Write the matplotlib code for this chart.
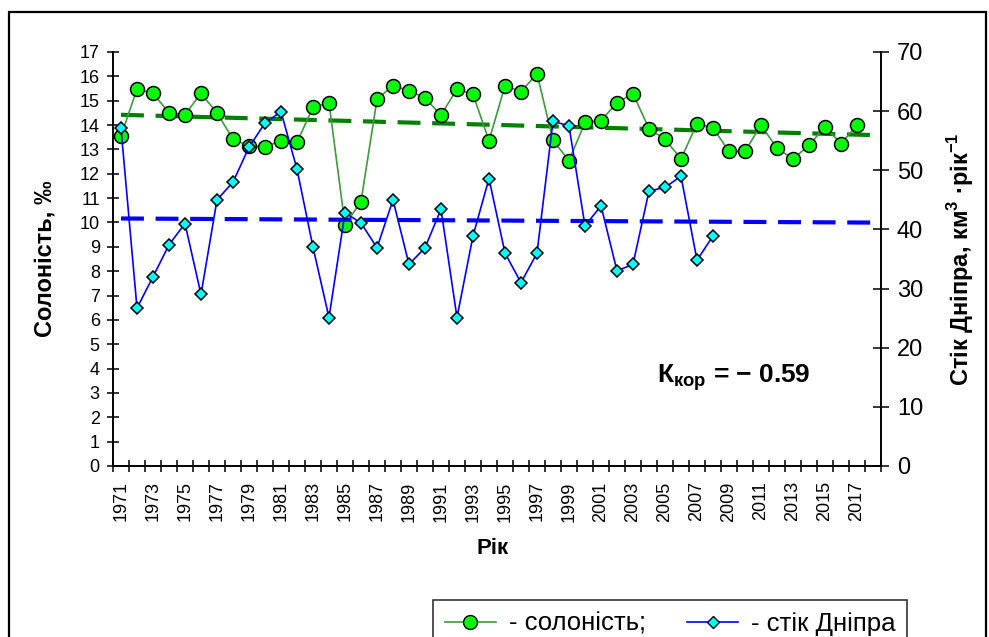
import numpy as np
import matplotlib.pyplot as plt
from matplotlib.patches import Rectangle
from matplotlib.lines import Line2D

plt.rcParams['font.family'] = ['Liberation Sans', 'DejaVu Sans']
plt.rcParams['mathtext.fontset'] = 'custom'
plt.rcParams['mathtext.rm'] = 'Liberation Sans'
plt.rcParams['mathtext.bf'] = 'Liberation Sans:bold'

# salinity, permille (1971-2017)
years_s = np.arange(1971, 2018)
salinity = [13.55, 15.48, 15.30, 14.51, 14.43, 15.30, 14.50, 13.42, 13.14, 13.10,
            13.36, 13.29, 14.73, 14.92, 9.90, 10.86, 15.06, 15.62, 15.41, 15.11,
            14.41, 15.48, 15.26, 13.36, 15.62, 15.37, 16.11, 13.37, 12.54, 14.11,
            14.18, 14.92, 15.29, 13.85, 13.42, 12.61, 14.06, 13.88, 12.92, 12.92,
            14.00, 13.05, 12.61, 13.17, 13.93, 13.24, 13.99]

# Dnipro runoff, km3/year (1971-2008)
years_q = np.arange(1971, 2009)
runoff = [57.1, 26.7, 32.0, 37.4, 41.0, 29.0, 45.0, 48.0, 53.9, 58.0,
          59.9, 50.2, 37.0, 25.1, 42.8, 41.1, 36.9, 45.0, 34.1, 36.9,
          43.4, 25.1, 38.9, 48.6, 36.0, 31.0, 36.0, 58.3, 57.5, 40.6,
          44.0, 33.0, 34.1, 46.5, 47.1, 49.0, 34.8, 38.9]

first_year, last_year = 1971, 2018
trend_x = np.array([first_year, last_year])

fig = plt.figure(figsize=(9.89, 6.37), dpi=100)
ax = fig.add_axes([113/989, 1-466/637, (881-113)/989, (466-52)/637])
ax2 = ax.twinx()

# linear trends
ps = np.polyfit(years_s, salinity, 1)
pq = np.polyfit(years_q, runoff, 1)
ax.plot(trend_x, np.polyval(ps, trend_x), color='#008000', lw=3, dashes=(5.5, 2.8), zorder=1)
ax2.plot(trend_x, np.polyval(pq, trend_x), color='#0000ff', lw=3, dashes=(5.5, 2.8), zorder=1)

ax.plot(years_s, salinity, color='#3d9b3d', lw=1.2, marker='o', ms=10,
        mfc='#00ff00', mec='black', mew=1.1, zorder=3)
ax2.plot(years_q, runoff, color='#0000ff', lw=1.2, marker='D', ms=6.5,
         mfc='#00ffff', mec='black', mew=1.1, zorder=3)

ax.set_xlim(first_year - 0.5, last_year + 0.5)
ax.set_ylim(0, 17)
ax2.set_ylim(0, 70)
ax.set_yticks(range(0, 18))
ax2.set_yticks(range(0, 71, 10))

# ticks on category boundaries, labels every second year
ax.set_xticks(np.arange(first_year - 0.5, last_year + 1))
ax.set_xticklabels([])
lab_years = np.arange(1971, 2018, 2)
ax.set_xticks(lab_years, [str(y) for y in lab_years], minor=True, rotation=90)
ax.tick_params(axis='x', which='major', direction='inout', length=9, width=1.1)
ax.tick_params(axis='x', which='minor', length=0, pad=11, labelsize=13)
ax.tick_params(axis='y', direction='inout', length=9, width=1.1, labelsize=13, pad=5)
ax2.tick_params(axis='y', direction='inout', length=11, width=1.1, labelsize=17, pad=6)

for a in (ax, ax2):
    a.spines['top'].set_visible(False)
    for s in ('left', 'right', 'bottom'):
        a.spines[s].set_linewidth(1.2)

fig.text(45/989, 1-259/637, 'Солоність, ‰', rotation=90, fontsize=17, fontweight='bold',
         ha='center', va='center')
fig.text(961/989, 1-259/637, r'Стік Дніпра, км$^{\mathbf{3}}$ ·рік$^{\mathbf{-1}}$', rotation=90,
         fontsize=17, fontweight='bold', ha='center', va='center')
fig.text(493/989, 1-549/637, 'Рік', fontsize=16, fontweight='bold', ha='center', va='center')
fig.text(657/989, 1-378/637, r'$\mathbf{К_{кор}}$ = − 0.59', fontsize=19, fontweight='bold',
         ha='left', va='center')

handles = [Line2D([], [], color='#3d9b3d', lw=1.2, marker='o', ms=10, mfc='#00ff00', mec='black'),
           Line2D([], [], color='#0000ff', lw=1.2, marker='D', ms=6.5, mfc='#00ffff', mec='black')]
leg = fig.legend(handles, ['- солоність;', '- стік Дніпра'], ncol=2, loc='upper left',
                 bbox_to_anchor=(433/989, 1-600/637), fontsize=18.5, frameon=True,
                 fancybox=False, shadow=False, handlelength=2.0, columnspacing=1.6,
                 borderaxespad=0, borderpad=0.45, handletextpad=0.5)
leg.get_frame().set_edgecolor('black')
leg.get_frame().set_linewidth(1.2)

# outer chart border
fig.patches.append(Rectangle((9/989, -0.05), (986-9)/989, 1.05-12/637, transform=fig.transFigure,
                             fill=False, edgecolor='black', lw=1.6))

fig.savefig('out.png', dpi=100)
